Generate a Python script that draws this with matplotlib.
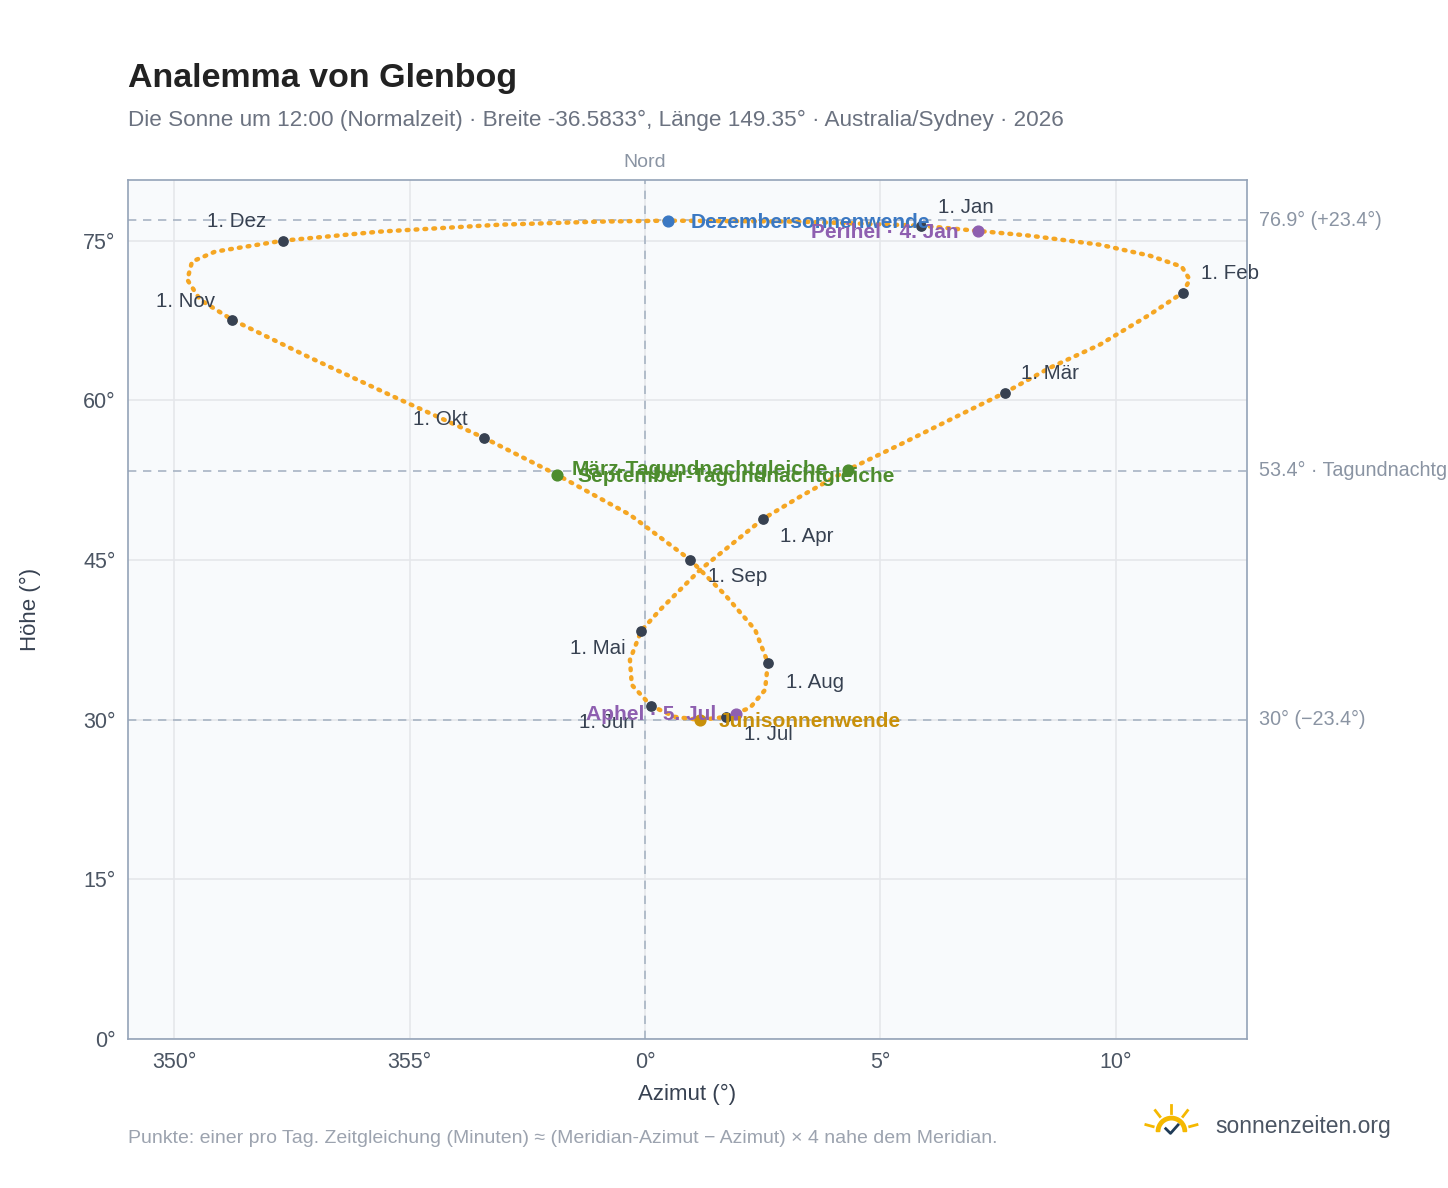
import matplotlib
matplotlib.use("Agg")
import matplotlib.pyplot as plt
import numpy as np
from matplotlib.patches import Wedge

plt.rcParams["font.family"] = ["Liberation Sans", "DejaVu Sans"]

# path of the sun at noon (azimuth relative to north, altitude)
path_az = [5.86, 8.17, 9.66, 10.72, 11.40, 11.57, 11.42, 10.72, 9.66, 8.60, 7.64, 6.48, 5.41,
           4.31, 3.29, 2.51, 1.17, 0.32, -0.08, -0.32, -0.28, 0.13, 0.64, 1.17, 1.72, 2.23,
           2.55, 2.61, 2.34, 1.70, 0.96, -0.32, -1.87, -3.42, -5.20, -7.11, -8.77, -9.45,
           -9.72, -9.62, -9.13, -7.69, -5.63, -3.08, -0.96, 0.49, 3.29, 5.86]
path_alt = [76.41, 75.47, 74.62, 73.59, 72.56, 71.33, 70.11, 68.05, 65.23, 63.06, 60.71, 58.18,
            55.83, 53.48, 50.94, 48.87, 44.08, 40.32, 38.35, 35.62, 33.27, 31.30, 30.26, 29.98,
            30.26, 31.11, 32.80, 35.34, 38.44, 41.73, 45.02, 49.25, 53.01, 56.48, 60.06, 64.00,
            67.58, 69.45, 71.33, 73.03, 73.97, 75.00, 75.85, 76.50, 76.79, 76.88, 76.79, 76.41]

month_names = ["1. Jan", "1. Feb", "1. Mär", "1. Apr", "1. Mai", "1. Jun",
               "1. Jul", "1. Aug", "1. Sep", "1. Okt", "1. Nov", "1. Dez"]
month_az = [5.86, 11.42, 7.64, 2.51, -0.08, 0.13, 1.72, 2.61, 0.96, -3.42, -8.77, -7.69]
month_alt = [76.41, 70.11, 60.71, 48.87, 38.35, 31.30, 30.26, 35.34, 45.02, 56.48, 67.58, 75.00]
month_offset = [(12, 13), (13, 14), (12, 14), (12, -13), (-11, -13), (-12, -12),
                (13, -13), (13, -14), (13, -12), (-12, 13), (-12, 13), (-12, 14)]

events = [
    ("Dezembersonnenwende", 0.49, 76.88, "#3a78c3", (16, -1), "left"),
    ("Perihel · 4. Jan", 7.07, 75.9, "#8e5fb0", (-14, -1), "right"),
    ("März-Tagundnachtgleiche", 4.31, 53.48, "#4d8c2e", (-199, 0), "left"),
    ("September-Tagundnachtgleiche", -1.87, 53.01, "#4d8c2e", (15, -1), "left"),
    ("Junisonnenwende", 1.17, 29.98, "#c8900a", (13, -1), "left"),
    ("Aphel · 5. Jul", 1.93, 30.5, "#8e5fb0", (-14, 0), "right"),
]
ref_levels = [76.9, 53.4, 30.0]
ref_labels = ["76.9° (+23.4°)", "53.4° · Tagundnachtg", "30° (−23.4°)"]

fig = plt.figure(figsize=(14.48, 11.88), dpi=100)
ax = fig.add_axes([0.0884, 0.1254, 0.7726, 0.7231])
ax.set_facecolor("#f8fafc")
for s in ax.spines.values():
    s.set_color("#94a3b8")
    s.set_linewidth(1.2)
ax.grid(color="#e5e7eb", linewidth=1.2)
ax.set_axisbelow(True)

ax.set_xlim(-10.98, 12.78)
ax.set_ylim(0, 80.7)
ax.set_xticks([-10, -5, 0, 5, 10], ["350°", "355°", "0°", "5°", "10°"])
ax.set_yticks(range(0, 76, 15), [f"{v}°" for v in range(0, 76, 15)])
ax.tick_params(length=0, labelsize=15.5, colors="#4b5563", pad=9)
ax.set_xlabel("Azimut (°)", fontsize=16, color="#374151", labelpad=8)
ax.set_ylabel("Höhe (°)", fontsize=16, color="#374151", labelpad=30)

for lvl, lab in zip(ref_levels, ref_labels):
    ax.axhline(lvl, color="#a8b4c4", linestyle=(0, (5, 4)), linewidth=1.2, zorder=1)
    ax.annotate(lab, (1, lvl), xycoords=("axes fraction", "data"), xytext=(9, 0),
                textcoords="offset points", va="center", fontsize=14.2, color="#8a94a3",
                annotation_clip=False)
ax.axvline(0, color="#a8b4c4", linestyle=(0, (5, 4)), linewidth=1.2, zorder=1)
ax.text(0, 1.01, "Nord", transform=ax.get_xaxis_transform(), ha="center", va="bottom",
        fontsize=14, color="#8a94a3")

ax.plot(path_az, path_alt, color="#f5a623", linewidth=3.2, linestyle=(0, (0.4, 1.6)),
        dash_capstyle="round", zorder=3)
ax.scatter(month_az, month_alt, s=45, color="#374151", zorder=5)
for name, x, y, off in zip(month_names, month_az, month_alt, month_offset):
    ax.annotate(name, (x, y), xytext=off, textcoords="offset points", fontsize=14.8,
                color="#374151", va="center", ha="left" if off[0] > 0 else "right", zorder=6)

for name, x, y, col, off, ha in events:
    ax.scatter([x], [y], s=60, color=col, zorder=6)
    ax.annotate(name, (x, y), xytext=off, textcoords="offset points", fontsize=15,
                color=col, fontweight="bold", ha=ha, va="center", zorder=7)

fig.text(0.0884, 0.927, "Analemma von Glenbog", fontsize=24.5, fontweight="bold", color="#222222")
fig.text(0.0884, 0.894, "Die Sonne um 12:00 (Normalzeit) · Breite -36.5833°, Länge 149.35° · "
         "Australia/Sydney · 2026", fontsize=16.2, color="#6b7280")
fig.text(0.0884, 0.038, "Punkte: einer pro Tag. Zeitgleichung (Minuten) ≈ "
         "(Meridian-Azimut − Azimut) × 4 nahe dem Meridian.", fontsize=14, color="#9ca3af")

# logo
lax = fig.add_axes([0.789, 0.038, 0.04, 0.035])
lax.set_xlim(-1.5, 1.5)
lax.set_ylim(-0.6, 1.6)
lax.set_aspect("equal")
lax.axis("off")
lax.add_patch(Wedge((0, 0), 0.8, 0, 180, width=0.18, color="#f5b800"))
for a in np.linspace(15, 165, 5):
    r = np.deg2rad(a)
    lax.plot([1.0 * np.cos(r), 1.4 * np.cos(r)], [1.0 * np.sin(r), 1.4 * np.sin(r)],
             color="#f5b800", linewidth=2)
lax.plot([-0.3, -0.05, 0.35], [0.15, -0.1, 0.35], color="#1f3b57", linewidth=2)
fig.text(0.839, 0.052, "sonnenzeiten.org", fontsize=16.5, color="#4b5563", va="center")

fig.savefig("out.png", dpi=100)
